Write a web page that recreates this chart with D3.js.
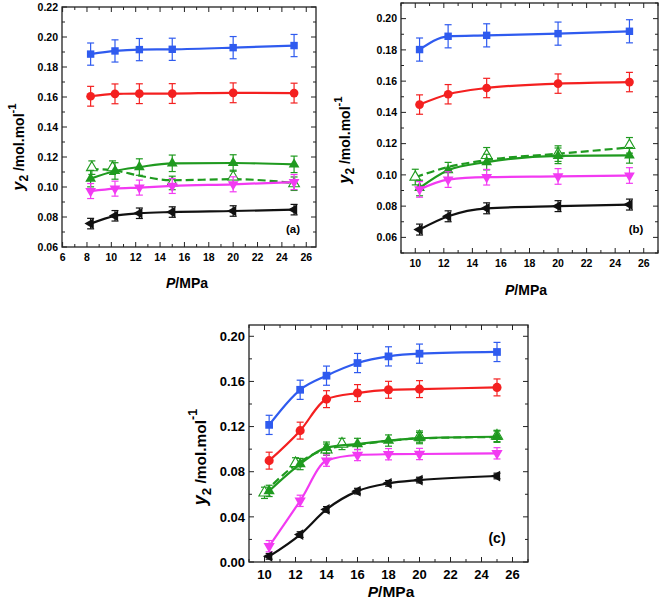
<!DOCTYPE html>
<html><head><meta charset="utf-8">
<script src="https://cdn.jsdelivr.net/npm/d3@7"></script>
<style>
body{margin:0;background:#fff;}
svg{display:block;font-family:"Liberation Sans",Arial,sans-serif;font-weight:bold;}
</style></head>
<body><svg id="c" width="661" height="604"></svg>
<script>
// ---------- DATA ----------
// Panel (a)
const aP = [8.3, 10.3, 12.3, 15, 20, 25];
const aBlue = [0.1886, 0.1907, 0.1916, 0.1918, 0.1929, 0.1943];
const aRed = [0.1605, 0.1621, 0.1622, 0.1623, 0.1628, 0.1626];
const aGreen = [0.1056, 0.1107, 0.1133, 0.1158, 0.1160, 0.1151];
const aMagenta = [0.0973, 0.0989, 0.0996, 0.1007, 0.1018, 0.1033];
const aBlack = [0.0756, 0.0808, 0.0825, 0.0833, 0.0840, 0.0849];
const aOpenP = [8.4, 10.1, 15, 20, 25];
const aOpen = [0.1129, 0.1129, 0.1027, 0.1067, 0.1022];
const aDashP = [8.3, 10.3, 12.3, 15, 20, 25];
const aDash = [0.1120, 0.1110, 0.1075, 0.1045, 0.1052, 0.1027];
// Panel (b)
const bP = [10.3, 12.3, 15, 20, 25];
const bBlue = [0.1802, 0.1887, 0.1893, 0.1904, 0.1919];
const bRed = [0.1450, 0.1516, 0.1556, 0.1584, 0.1594];
const bGreen = [0.0916, 0.1030, 0.1082, 0.1122, 0.1125];
const bMagenta = [0.0907, 0.0970, 0.0985, 0.0990, 0.0996];
const bBlack = [0.0650, 0.0735, 0.0786, 0.0800, 0.0810];
const bOpenP = [10.0, 15, 20, 25];
const bOpen = [0.0986, 0.1125, 0.1136, 0.1189];
const bDashP = [10.0, 12.3, 15, 20, 25];
const bDash = [0.0985, 0.1050, 0.1095, 0.1135, 0.1175];
// Panel (c)
const cP = [10.3, 12.3, 14, 16, 18, 20, 25];
const cBlue = [0.1215, 0.1526, 0.1651, 0.1763, 0.1822, 0.1846, 0.1861];
const cRed = [0.0898, 0.1164, 0.1443, 0.1497, 0.1526, 0.1532, 0.1547];
const cGreen = [0.0630, 0.0868, 0.1013, 0.1046, 0.1076, 0.1098, 0.1110];
const cMagenta = [0.0140, 0.0542, 0.0898, 0.0948, 0.0955, 0.0957, 0.0963];
const cBlack = [0.0050, 0.0243, 0.0466, 0.0628, 0.0697, 0.0726, 0.0762];
const cOpenP = [10.0, 12.0, 14, 15, 20, 25];
const cOpen = [0.0613, 0.0874, 0.0995, 0.1046, 0.1111, 0.1117];
const cDashP = [10.0, 12.0, 14, 16, 20, 25];
const cDash = [0.0615, 0.0860, 0.1000, 0.1040, 0.1095, 0.1108];
// Error bar half-widths
const aErr = {blue:0.0074, red:0.0066, green:0.0055, open:0.0045, magenta:0.0050, black:0.0035};
const bErr = {blue:0.0074, red:0.0062, green:0.0050, open:0.0050, magenta:0.0050, black:0.0035};
const cErr = {blue:0.0085, red:0.0075, green:0.0050, open:0.0050, magenta:0.0050, black:0.0025};
// Tick labels
const aXTicks = [6,8,10,12,14,16,18,20,22,24,26];
const aYTicks = [0.06,0.08,0.10,0.12,0.14,0.16,0.18,0.20,0.22];
const bXTicks = [10,12,14,16,18,20,22,24,26];
const bYTicks = [0.06,0.08,0.10,0.12,0.14,0.16,0.18,0.20];
const cXTicks = [10,12,14,16,18,20,22,24,26];
const cYTicks = [0.00,0.04,0.08,0.12,0.16,0.20];

// ---------- STYLE ----------
const COL = {blue:"#2f5bef", red:"#f42020", green:"#1f9a1f", magenta:"#f23af2", black:"#111"};

const svg = d3.select("#c");

function panel(cfg){
  const x = d3.scaleLinear().domain(cfg.xd).range([cfg.L, cfg.R]);
  const y = d3.scaleLinear().domain(cfg.yd).range([cfg.B, cfg.T]);
  const g = svg.append("g");
  const xMinor = d3.range(Math.ceil(cfg.xd[0]), Math.floor(cfg.xd[1])+1, 1);
  const yMinor = d3.range(0, 200).map(i=>+(cfg.yd[0]+i*cfg.yMinorStep).toFixed(4)).filter(v=>v<=cfg.yd[1]+1e-9);
  const tk = g.append("g").attr("stroke","#222").attr("stroke-width",1);
  xMinor.forEach(v=>{
    const maj = cfg.xTicks.includes(v);
    const len = maj?5:3;
    tk.append("line").attr("x1",x(v)).attr("x2",x(v)).attr("y1",cfg.B).attr("y2",cfg.B-len);
    tk.append("line").attr("x1",x(v)).attr("x2",x(v)).attr("y1",cfg.T).attr("y2",cfg.T+len);
  });
  yMinor.forEach(v=>{
    const maj = cfg.yTicks.some(t=>Math.abs(t-v)<1e-6);
    const len = maj?5:3;
    tk.append("line").attr("y1",y(v)).attr("y2",y(v)).attr("x1",cfg.L).attr("x2",cfg.L+len);
    tk.append("line").attr("y1",y(v)).attr("y2",y(v)).attr("x1",cfg.R).attr("x2",cfg.R-len);
  });
  g.append("rect").attr("x",cfg.L).attr("y",cfg.T).attr("width",cfg.R-cfg.L).attr("height",cfg.B-cfg.T)
    .attr("fill","none").attr("stroke","#222").attr("stroke-width",1.3);
  g.append("g").selectAll("text").data(cfg.xTicks).join("text")
    .attr("x",d=>x(d)).attr("y",cfg.B+cfg.fs+3.5).attr("text-anchor","middle")
    .attr("font-size",cfg.fs).text(d=>d);
  g.append("g").selectAll("text").data(cfg.yTicks).join("text")
    .attr("x",cfg.L-4).attr("y",d=>y(d)+cfg.fs*0.36).attr("text-anchor","end")
    .attr("font-size",cfg.fs).text(d=>d.toFixed(2));
  const xt = g.append("text").attr("x",cfg.xlx).attr("y",cfg.xly).attr("text-anchor","middle").attr("font-size",cfg.lfs);
  xt.append("tspan").attr("font-style","italic").text("P");
  xt.append("tspan").text("/MPa");
  const yt = g.append("text").attr("transform",`translate(${cfg.ylx},${cfg.yly}) rotate(-90)`)
    .attr("text-anchor","middle").attr("font-size",cfg.lfs);
  yt.append("tspan").attr("font-style","italic").attr("font-size",cfg.lfs*1.15).text("y");
  yt.append("tspan").attr("font-size",cfg.lfs*0.85).attr("dy",cfg.lfs*0.3).text("2");
  yt.append("tspan").attr("dy",-cfg.lfs*0.3).text(" /mol.mol");
  yt.append("tspan").attr("font-size",cfg.lfs*0.8).attr("dy",-cfg.lfs*0.55).text("-1");
  g.append("text").attr("x",cfg.tagx).attr("y",cfg.tagy).attr("text-anchor","middle").attr("font-size",cfg.fs+1).text(cfg.tag);

  const plot = g.append("g");
  const line = d3.line().x(d=>x(d[0])).y(d=>y(d[1])).curve(d3.curveMonotoneX);
  function series(P, V, col, sym, opts={}){
    const pts = P.map((p,i)=>[p,V[i]]);
    if(!opts.noLine){
      plot.append("path").attr("d",line(opts.fitP?opts.fitP.map((p,i)=>[p,opts.fitV[i]]):pts))
        .attr("fill","none").attr("stroke",col).attr("stroke-width",2.2)
        .attr("stroke-dasharray",opts.dash?"8,4":null);
    }
    const e = opts.err;
    pts.forEach(d=>{
      const eg = plot.append("g").attr("stroke",col).attr("stroke-width",1.2);
      eg.append("line").attr("x1",x(d[0])).attr("x2",x(d[0])).attr("y1",y(d[1]-e)).attr("y2",y(d[1]+e));
      eg.append("line").attr("x1",x(d[0])-3.5).attr("x2",x(d[0])+3.5).attr("y1",y(d[1]-e)).attr("y2",y(d[1]-e));
      eg.append("line").attr("x1",x(d[0])-3.5).attr("x2",x(d[0])+3.5).attr("y1",y(d[1]+e)).attr("y2",y(d[1]+e));
    });
    pts.forEach(d=>{
      const sz = opts.size||48;
      const p = plot.append("path").attr("transform",`translate(${x(d[0])},${y(d[1])}) rotate(${opts.rot||0})`)
        .attr("d",d3.symbol().type(sym).size(sz)());
      if(opts.open) p.attr("fill","#fff").attr("stroke",col).attr("stroke-width",1.1);
      else p.attr("fill",col);
    });
  }
  cfg.series.forEach(s=>series(...s));
}

const T = d3.symbolTriangle;
panel({L:62,R:316,T:7,B:247,xd:[5.95,26.8],yd:[0.06,0.22],yMinorStep:0.01,
  xTicks:aXTicks,yTicks:aYTicks,fs:10.5,lfs:14,
  xlx:187,xly:288,ylx:24,yly:147,tag:"(a)",tagx:293,tagy:233,
  series:[
    [aP,aBlue,COL.blue,d3.symbolSquare,{err:aErr.blue,size:55}],
    [aP,aRed,COL.red,d3.symbolCircle,{err:aErr.red,size:60}],
    [aOpenP,aOpen,COL.green,T,{err:aErr.open,open:true,dash:true,fitP:aDashP,fitV:aDash,size:50}],
    [aP,aGreen,COL.green,T,{err:aErr.green,size:50}],
    [aP,aMagenta,COL.magenta,T,{err:aErr.magenta,rot:180,size:50}],
    [aP,aBlack,COL.black,T,{err:aErr.black,rot:-90,size:50}],
  ]});
panel({L:401,R:658,T:3,B:253,xd:[9,27],yd:[0.05,0.21],yMinorStep:0.01,
  xTicks:bXTicks,yTicks:bYTicks,fs:10.5,lfs:14,
  xlx:526,xly:295,ylx:350,yly:140,tag:"(b)",tagx:636,tagy:233,
  series:[
    [bP,bBlue,COL.blue,d3.symbolSquare,{err:bErr.blue,size:55}],
    [bP,bRed,COL.red,d3.symbolCircle,{err:bErr.red,size:60}],
    [bOpenP,bOpen,COL.green,T,{err:bErr.open,open:true,dash:true,fitP:bDashP,fitV:bDash,size:50}],
    [bP,bGreen,COL.green,T,{err:bErr.green,size:50}],
    [bP,bMagenta,COL.magenta,T,{err:bErr.magenta,rot:180,size:50}],
    [bP,bBlack,COL.black,T,{err:bErr.black,rot:-90,size:50}],
  ]});
panel({L:249,R:528,T:325,B:562,xd:[9,27],yd:[0,0.21],yMinorStep:0.02,
  xTicks:cXTicks,yTicks:cYTicks,fs:13,lfs:15.5,
  xlx:391,xly:597,ylx:206,yly:457,tag:"(c)",tagx:497,tagy:543,
  series:[
    [cP,cBlue,COL.blue,d3.symbolSquare,{err:cErr.blue,size:60}],
    [cP,cRed,COL.red,d3.symbolCircle,{err:cErr.red,size:65}],
    [cOpenP,cOpen,COL.green,T,{err:cErr.open,open:true,dash:true,fitP:cDashP,fitV:cDash,size:55}],
    [cP,cGreen,COL.green,T,{err:cErr.green,size:55}],
    [cP,cMagenta,COL.magenta,T,{err:cErr.magenta,rot:180,size:55}],
    [cP,cBlack,COL.black,T,{err:cErr.black,rot:-90,size:50}],
  ]});
</script></body></html>
